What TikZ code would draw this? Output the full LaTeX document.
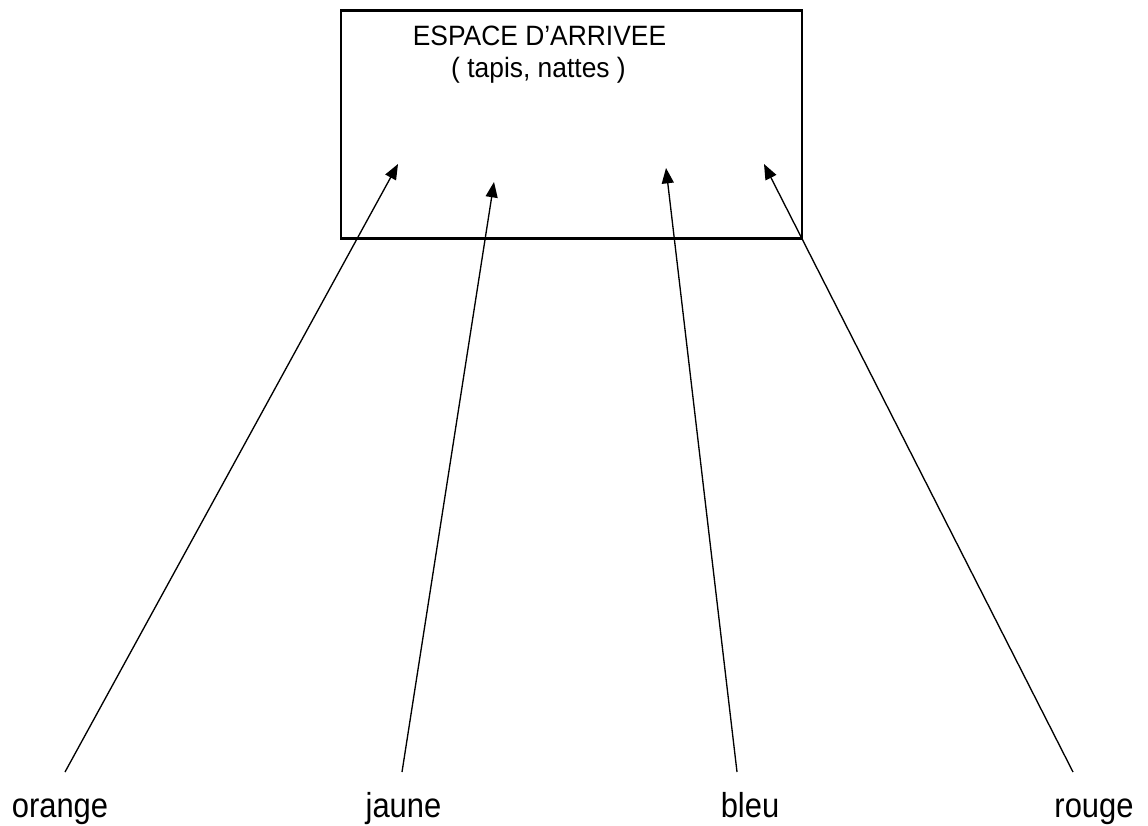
\documentclass[tikz,border=0pt]{standalone}
\usepackage{fontspec}
\setmainfont{Liberation Sans}
\usetikzlibrary{positioning}
\usetikzlibrary{arrows.meta}
\newcommand{\tallword}[2]{\scalebox{1}[#1]{#2}}

\begin{document}
\begin{tikzpicture}[x=0.75pt, y=-0.75pt,
	area/.style    = {draw, line width=2pt, minimum width=345.75pt, minimum height=171pt, inner sep=0pt},
	titletext/.style = {font=\fontsize{19.8}{24}\selectfont, inner sep=0pt, anchor=base},
	colour/.style  = {font=\fontsize{23.2}{28}\selectfont, inner sep=0pt, anchor=base},
	path/.style    = {line width=1pt, -{Triangle[length=11.5pt, width=9pt]}}]

	\useasboundingbox (0,0) rectangle (1148,825);

	% ---------------------
	% Arrival area
	\node[area] (Arrivee) at (571.5,124.5) {};
	\node[titletext] (Title)    at (539.5,45) {\tallword{1.06}{ESPACE D’ARRIVEE}};
	\node[titletext] (SubTitle) at (538.5,77) {\tallword{1.06}{( tapis, nattes )}};

	% ---------------------
	% Colour labels
	\node[colour] (Orange) at (60,817)    {\tallword{1.12}{orange}};
	\node[colour] (Jaune)  at (403.5,817) {\tallword{1.12}{jaune}};
	\node[colour] (Bleu)   at (750,817)   {\tallword{1.12}{bleu}};
	\node[colour] (Rouge)  at (1094,817)  {\tallword{1.12}{rouge}};

	% ---------------------
	% Start and end of each path
	\coordinate (OrangeStart) at (65,772);
	\coordinate (JauneStart)  at (402,772);
	\coordinate (BleuStart)   at (737,772);
	\coordinate (RougeStart)  at (1073,772);

	\coordinate (OrangeEnd) at (398,164);
	\coordinate (JauneEnd)  at (494,182);
	\coordinate (BleuEnd)   at (666,168);
	\coordinate (RougeEnd)  at (764,164);

	% ---------------------
	% Paths
	\draw[path] (OrangeStart) -- (OrangeEnd);
	\draw[path] (JauneStart)  -- (JauneEnd);
	\draw[path] (BleuStart)   -- (BleuEnd);
	\draw[path] (RougeStart)  -- (RougeEnd);

\end{tikzpicture}
\end{document}
